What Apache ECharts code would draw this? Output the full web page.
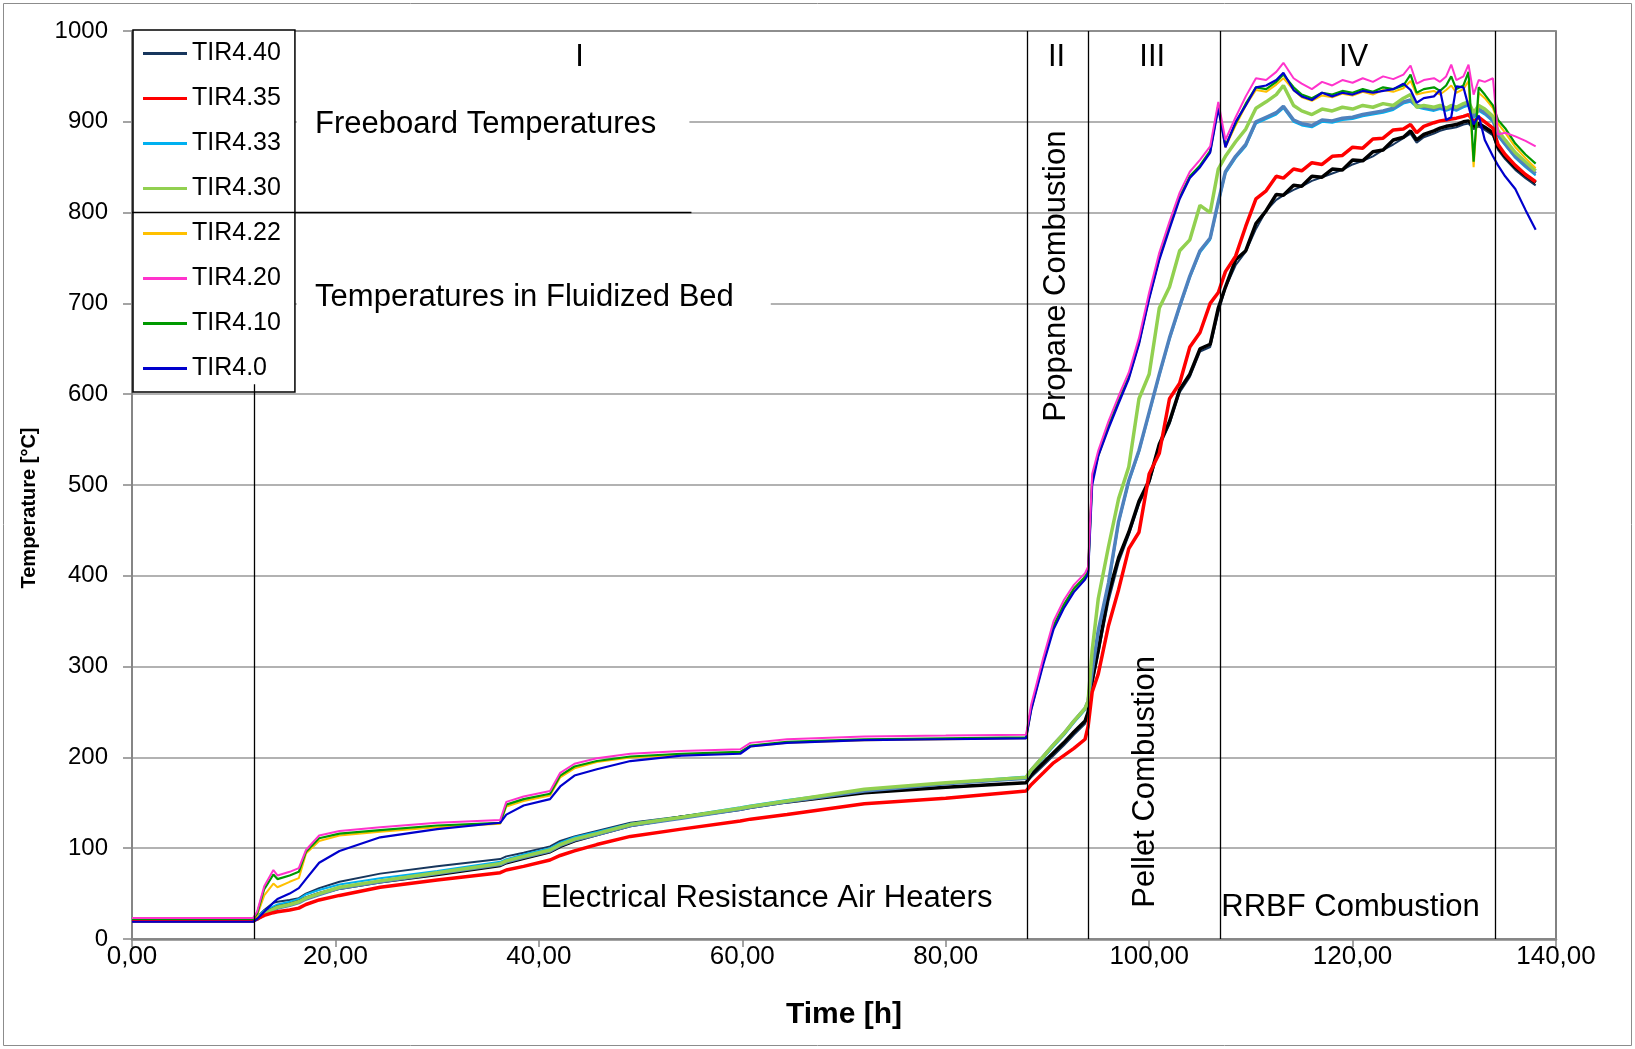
<!DOCTYPE html>
<html>
<head>
<meta charset="utf-8">
<script src="https://cdn.jsdelivr.net/npm/echarts@6/dist/echarts.min.js"></script>
<style>
  html, body { margin: 0; padding: 0; background: #fff; }
  #main { width: 1635px; height: 1049px; }
</style>
</head>
<body>
<div id="main"></div>
<script>
// time axis [h], shared by all series
const hours = [
  0, 6, 11.9, 12.3, 13, 13.9, 14.3, 15.5, 16.4, 17.1, 18.4, 20.4, 24.4, 30,
  36.2, 36.8, 38.5, 41.1, 42.1, 43.5, 45.7, 49, 54, 59.8, 60.8, 64.4, 72, 80, 87.9,
  88.4, 89.6, 90.6, 91.6, 92.6, 93.7, 94.0, 94.4,
  95, 96, 97, 98, 99, 100, 101, 102, 103, 104, 105, 106, 106.8,
  107.5, 108.5, 109.5, 110.5, 111.5, 112.5, 113.2, 114.2, 115, 116, 117, 118, 119, 120, 121, 122, 123, 124, 125,
  125.7, 126.3, 127, 128, 128.6, 129.2, 129.7, 130.2, 130.9, 131.4, 131.9, 132.4, 133, 133.8,
  134.3, 135, 136, 137, 138
];

const tir440 = [
  20, 20, 20, 24, 32, 40, 41, 43, 45, 50, 56, 63, 72, 80,
  88, 91, 95, 102, 108, 113, 119, 128, 135, 143, 145, 151, 161, 167, 172,
  178, 191, 202, 213, 225, 237, 247, 280,
  315, 372, 415, 445, 479, 502, 542, 567, 602, 619, 647, 652, 690,
  717, 742, 757, 782, 802, 814, 819, 825, 829, 835, 839, 843, 847, 853, 857, 862, 869, 875, 882,
  887, 877, 883, 887, 890, 892, 893, 894, 897, 898, 892, 895, 891, 885,
  869, 859, 847, 838, 830
];
const tir435 = [
  20, 20, 20, 22, 26, 29, 30, 32, 34, 38, 43, 48, 57, 65,
  73, 76, 80, 87, 92, 97, 104, 113, 121, 130, 132, 137, 149, 155, 163,
  170, 183, 194, 202, 210, 220, 234, 272,
  292, 345, 385, 430, 448, 512, 535, 595, 612, 652, 668, 700, 712,
  735, 752, 785, 815, 824, 840, 838, 848, 846, 855, 853, 862, 863, 872, 871, 881, 882, 891, 892,
  897, 888, 895, 899, 901, 902, 903, 904, 906, 908, 900, 905, 900, 893,
  875, 864, 852, 842, 834
];
const tir433 = [
  21, 21, 21, 24, 31, 36, 38, 41, 44, 49, 54, 60, 67, 75,
  85, 88, 93, 100, 106, 112, 118, 127, 135, 145, 147, 153, 164, 172, 179,
  184, 199, 212, 224, 238, 252, 260, 292,
  338, 388, 458, 503, 536, 578, 620, 660, 695, 728, 756, 770, 810,
  843, 860, 873, 898, 903, 908, 915, 900, 896, 894, 900, 899, 902, 903, 906, 908, 910, 913, 920,
  922, 916, 914, 912, 914, 912, 914, 912, 916, 918, 904, 912, 908, 900,
  884, 874, 860, 850, 841
];
const tir430 = [
  21, 21, 21, 23, 28, 33, 35, 38, 41, 45, 50, 57, 64, 73,
  83, 86, 91, 98, 104, 110, 116, 126, 134, 144, 146, 152, 165, 172, 178,
  186, 201, 214, 226, 240, 254, 262, 318,
  375, 432, 485, 520, 595, 622, 695, 718, 758, 770, 808, 800, 848,
  862, 878, 892, 915, 922, 930, 940, 918, 912, 908, 914, 912, 916, 914, 918, 916, 920, 918, 926,
  930, 916, 918, 916, 918, 915, 918, 916, 920, 922, 910, 918, 914, 906,
  890, 880, 866, 856, 846
];
const tir422 = [
  22, 22, 22, 26, 48, 61, 57, 63, 67, 94, 108, 114, 118, 123,
  127, 146, 152, 158, 178, 188, 195, 200, 203, 205, 212, 216, 219, 220, 221,
  252, 305, 344, 367, 385, 398, 404, 506,
  532, 564, 592, 618, 656, 706, 749, 784, 816, 839, 851, 867, 917,
  872, 896, 918, 935, 933, 941, 948, 935, 927, 923, 929, 927, 931, 929, 933, 930, 935, 933, 937,
  945, 930, 932, 934, 930, 935, 940, 932, 936, 945, 850, 932, 926, 915,
  898, 888, 872, 860, 849
];
const tir420 = [
  23, 23, 23, 30, 58, 76, 70, 74, 78, 98, 114, 119, 123, 128,
  131, 151, 157, 163, 183, 193, 199, 204, 207, 209, 216, 220, 223, 224, 225,
  258, 310, 350, 373, 390, 403, 410, 512,
  538, 570, 598, 624, 662, 712, 756, 790, 822, 845, 858, 873, 922,
  880, 905, 928, 948, 946, 955, 965, 948, 942, 936, 944, 940, 946, 943, 948, 944, 950, 947, 952,
  962, 942, 946, 948, 944, 950, 963, 946, 950, 963, 930, 946, 944, 948,
  886, 888, 884, 879, 873
];
const tir410 = [
  22, 22, 22, 28, 55, 71, 66, 70, 74, 96, 111, 116, 120, 125,
  128, 148, 154, 160, 180, 190, 196, 201, 204, 206, 213, 217, 220, 221, 222,
  254, 306, 345, 368, 386, 399, 405, 507,
  533, 565, 593, 619, 657, 707, 750, 785, 817, 840, 852, 868, 918,
  874, 898, 920, 938, 936, 944, 952, 938, 930, 926, 932, 930, 934, 932, 936, 933, 938, 936, 940,
  952, 932, 936, 938, 934, 940, 950, 936, 940, 955, 856, 938, 930, 918,
  902, 893, 876, 864, 854
];
const tir40 = [
  19, 19, 19, 22, 30, 40, 44, 50, 56, 66, 84, 97, 112, 121,
  128, 137, 147, 154, 168, 180, 187, 196, 202, 204, 212, 216, 219, 220, 221,
  252, 303, 341, 364, 382, 396, 402, 500,
  532, 562, 590, 617, 655, 705, 748, 782, 815, 838, 850, 866, 915,
  872, 900, 918, 938, 940, 946, 954, 935, 928, 924, 932, 928, 932, 930, 934, 932, 934, 936, 942,
  935, 921, 926, 928, 935, 902, 905, 939, 938, 917, 897, 907, 880, 862,
  852, 840, 826, 803, 781
];
// two more traces drawn in the plot but not listed in the legend box
const series9 = [
  20, 20, 20, 22, 28, 33, 35, 38, 41, 45, 50, 56, 63, 71,
  81, 84, 89, 96, 102, 108, 115, 125, 134, 143, 145, 151, 161, 167, 172,
  181, 194, 205, 216, 228, 240, 250, 285,
  318, 380, 420, 448, 482, 505, 545, 570, 605, 622, 650, 655, 695,
  718, 748, 758, 788, 802, 820, 819, 830, 829, 840, 839, 848, 847, 858, 857, 867, 869, 880, 883,
  890, 880, 886, 890, 893, 895, 896, 897, 900, 901, 895, 898, 894, 888,
  872, 862, 850, 841, 833
];
const series10 = [
  20, 20, 20, 22, 27, 32, 34, 37, 40, 44, 49, 56, 63, 72,
  82, 85, 90, 97, 103, 109, 115, 125, 133, 143, 145, 151, 163, 171, 177,
  186, 201, 214, 226, 240, 254, 262, 295,
  340, 392, 460, 505, 538, 580, 622, 662, 697, 730, 758, 772, 812,
  845, 862, 875, 900, 905, 910, 917, 902, 898, 896, 902, 901, 904, 905, 908, 910, 912, 915, 922,
  924, 918, 916, 914, 916, 914, 916, 914, 918, 920, 906, 914, 910, 902,
  886, 876, 862, 852, 843
];

const legendNames = ['TIR4.40', 'TIR4.35', 'TIR4.33', 'TIR4.30', 'TIR4.22', 'TIR4.20', 'TIR4.10', 'TIR4.0'];
const phaseLines = [12, 88, 94, 107, 134];

const font = '"Liberation Sans", Arial, sans-serif';

function line(name, values, color, width) {
  return {
    name: name,
    type: 'line',
    symbol: 'none',
    showSymbol: false,
    data: hours.map((h, i) => [h, values[i]]),
    lineStyle: { color: color, width: width },
    itemStyle: { color: color },
    emphasis: { disabled: true },
    silent: true
  };
}

// drawing order: later ones on top
const series = [
  line('TIR4.40', tir440, '#17365D', 2),
  line('TIR4.33', tir433, '#00B0F0', 2),
  line('Series 9', series9, '#000000', 3.5),
  line('Series 10', series10, '#4F81BD', 3.5),
  line('TIR4.30', tir430, '#92D050', 3.5),
  line('TIR4.35', tir435, '#FF0000', 3.5),
  line('TIR4.22', tir422, '#FFC000', 2),
  line('TIR4.10', tir410, '#009900', 2.2),
  line('TIR4.0', tir40, '#0000CC', 2.2),
  line('TIR4.20', tir420, '#FF33CC', 2)
];

// phase separators and the 800 °C divider
series[0].markLine = {
  silent: true,
  symbol: 'none',
  label: { show: false },
  lineStyle: { color: '#000', width: 1.3, type: 'solid' },
  data: phaseLines.map(x => [{ coord: [x, 0] }, { coord: [x, x === 12 ? 611 : 1000] }])
    .concat([[{ coord: [0, 800] }, { coord: [55, 800] }]])
};

const option = {
  animation: false,
  backgroundColor: '#fff',
  textStyle: { fontFamily: font },
  grid: {
    left: 132, right: 79, top: 31, bottom: 110,
    show: true, borderColor: '#404040', borderWidth: 1.3
  },
  legend: {
    data: legendNames,
    orient: 'vertical',
    left: 133, top: 30,
    padding: [11, 14, 11, 10],
    itemGap: 20,
    itemWidth: 44,
    itemHeight: 3,
    icon: 'rect',
    backgroundColor: '#fff',
    borderColor: '#000',
    borderWidth: 1.5,
    textStyle: { fontSize: 25, color: '#000', fontFamily: font, lineHeight: 24 },
    selectedMode: false
  },
  xAxis: {
    type: 'value',
    min: 0, max: 140, interval: 20,
    axisLine: { lineStyle: { color: '#868686', width: 2.5 } },
    axisTick: { show: true, inside: false, length: 8, lineStyle: { color: '#868686', width: 1.5 } },
    axisLabel: {
      fontSize: 26, color: '#000', margin: 5,
      formatter: v => v.toFixed(2).replace('.', ',')
    },
    splitLine: { show: false }
  },
  yAxis: {
    type: 'value',
    min: 0, max: 1000, interval: 100,
    axisLine: { show: true, lineStyle: { color: '#868686', width: 2 } },
    axisTick: { show: true, inside: false, length: 9, lineStyle: { color: '#868686', width: 1.5 } },
    axisLabel: { fontSize: 24, color: '#000', margin: 24, formatter: v => String(v) },
    splitLine: { show: true, lineStyle: { color: '#999', width: 1.5 } }
  },
  series: series
};

const chart = echarts.init(document.getElementById('main'));
chart.setOption(option);

const p = (x, y) => chart.convertToPixel({ gridIndex: 0 }, [x, y]);

function label(text, x, y, opts) {
  const pt = p(x, y);
  return Object.assign({
    type: 'text', x: pt[0], y: pt[1], z: 20,
    style: {
      text: text, fill: '#000', font: '31px ' + font,
      align: 'center', verticalAlign: 'middle'
    }
  }, opts || {});
}

function box(x0, y0, x1, y1) {
  const a = p(x0, y0), b = p(x1, y1);
  return {
    type: 'rect', z: 1,
    shape: { x: a[0], y: a[1], width: b[0] - a[0], height: b[1] - a[1] },
    style: { fill: '#fff' }
  };
}

function leftLabel(text, x, y) {
  const pt = p(x, y);
  return {
    type: 'text', x: pt[0], y: pt[1], z: 20,
    style: { text: text, fill: '#000', font: '31px ' + font, align: 'left', verticalAlign: 'middle' }
  };
}

const graphic = [
  {
    type: 'rect', z: 0,
    shape: { x: 3.5, y: 3.5, width: 1628, height: 1042 },
    style: { fill: 'none', stroke: '#8c8c8c', lineWidth: 1 }
  },
  box(16.2, 925, 54.8, 870),
  box(16.2, 731, 62.8, 680),
  leftLabel('Freeboard Temperatures', 18, 897),
  leftLabel('Temperatures in Fluidized Bed', 18, 707),
  label('I', 44, 971),
  label('II', 90.9, 971),
  label('III', 100.3, 971),
  label('IV', 120.1, 971),
  label('Electrical Resistance Air Heaters', 62.4, 45),
  label('RRBF Combustion', 119.8, 34.5),
  label('Propane Combustion', 90.9, 730, { rotation: Math.PI / 2 }),
  label('Pellet Combustion', 99.6, 173, { rotation: Math.PI / 2 }),
  {
    type: 'text', x: 844, y: 1015, z: 20,
    style: { text: 'Time [h]', fill: '#000', font: 'bold 30px ' + font, align: 'center', verticalAlign: 'middle' }
  },
  {
    type: 'text', x: 29, y: 508, z: 20, rotation: Math.PI / 2,
    style: { text: 'Temperature [°C]', fill: '#000', font: 'bold 20px ' + font, align: 'center', verticalAlign: 'middle' }
  }
];
chart.setOption({ graphic: graphic });
</script>
</body>
</html>
